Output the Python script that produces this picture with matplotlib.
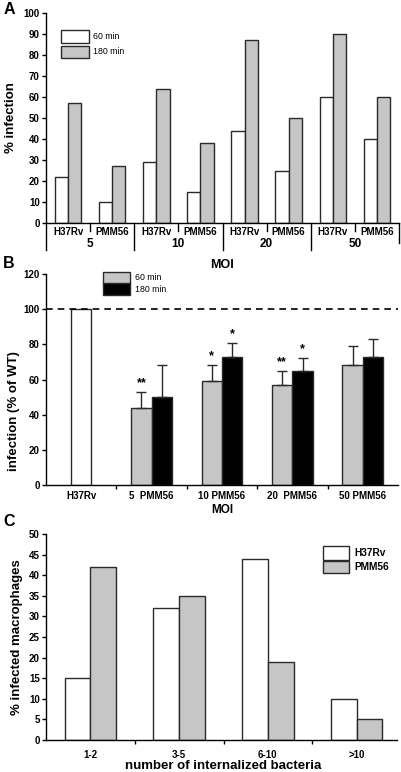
import matplotlib
matplotlib.use("Agg")
import matplotlib.pyplot as plt
from matplotlib.patches import Rectangle
import numpy as np

plt.rcParams['font.family'] = ['Liberation Sans', 'DejaVu Sans']
plt.rcParams['font.weight'] = 'bold'

# ---------------- data ----------------
a_strains = ["H37Rv", "PMM56"]
a_moi = ["5", "10", "20", "50"]
a_60 = [22, 10, 29, 15, 44, 25, 60, 40]
a_180 = [57, 27, 64, 38, 87, 50, 90, 60]

b_cats = ["H37Rv", "5  PMM56", "10 PMM56", "20  PMM56", "50 PMM56"]
b_wt = 100
b_60 = [44, 59, 57, 68]
b_60_err = [9, 9, 8, 11]
b_180 = [50, 73, 65, 73]
b_180_err = [18, 8, 7, 10]
b_stars_60 = ["**", "*", "**", ""]
b_stars_180 = ["", "*", "*", ""]

c_cats = ["1-2", "3-5", "6-10", ">10"]
c_h37rv = [15, 32, 44, 10]
c_pmm56 = [42, 35, 19, 5]

GRAY = "#c6c6c6"
EDGE = "#2a2a2a"
W, H = 401, 772
fig = plt.figure(figsize=(W / 100, H / 100), dpi=100)


def fx(px):
    return px / W


def fy(py):
    return 1 - py / H


def box(x0, y0, x1, y1, color):
    fig.patches.append(Rectangle((fx(x0), fy(y1)), fx(x1 - x0), (y1 - y0) / H,
                                 transform=fig.transFigure, facecolor=color,
                                 edgecolor=EDGE, lw=1.0))


def style(ax):
    for s in ["top", "right"]:
        ax.spines[s].set_visible(False)
    for s in ["left", "bottom"]:
        ax.spines[s].set_linewidth(1.0)
    ax.tick_params(axis='y', length=3, width=1, labelsize=7, pad=1.5)


# ---------------- Panel A ----------------
axA = fig.add_axes([fx(46), fy(223), fx(399 - 46), 210 / H])
style(axA)
x = np.arange(len(a_60))
bw = 0.3
axA.bar(x - bw / 2, a_60, bw, color="white", edgecolor=EDGE, lw=1.0)
axA.bar(x + bw / 2, a_180, bw, color=GRAY, edgecolor=EDGE, lw=1.0)
axA.set_xlim(-0.5, len(a_60) - 0.5)
axA.set_ylim(0, 100)
axA.set_yticks(range(0, 101, 10))
axA.set_xticks([])
tr = axA.get_xaxis_transform()
for i in range(len(a_60)):
    axA.text(i, -0.045, a_strains[i % 2], transform=tr, ha='center', va='center',
             fontsize=7, fontweight='bold')
for j, m in enumerate(a_moi):
    axA.text(2 * j + 0.5, -0.10, m, transform=tr, ha='center', va='center',
             fontsize=8.5, fontweight='bold')
# separators
for k in range(0, 9):
    xb = k - 0.5
    if k == 0:
        y1 = -27 / 210
    elif k % 2 == 0:
        y1 = -27 / 210 if k < 8 else -20 / 210
    else:
        y1 = -8 / 210
    axA.plot([xb, xb], [0, y1], transform=tr, color='black', lw=1.0, clip_on=False)
axA.set_ylabel("% infection", fontsize=9.5, fontweight='bold', labelpad=5)
fig.text(fx(222), fy(265), "MOI", ha='center', va='center', fontsize=9, fontweight='bold')

box(61, 30, 89, 43, "white")
box(61, 46, 89, 58, GRAY)
fig.text(fx(93), fy(36.5), "60 min", ha='left', va='center', fontsize=6.3, fontweight='normal')
fig.text(fx(93), fy(52), "180 min", ha='left', va='center', fontsize=6.3, fontweight='normal')

# ---------------- Panel B ----------------
axB = fig.add_axes([fx(46), fy(485), fx(398 - 46), 211 / H])
style(axB)
xb = np.arange(len(b_cats))
bwB = 0.29
axB.bar([0], [b_wt], bwB, color="white", edgecolor=EDGE, lw=1.0)
xp = xb[1:]
axB.bar(xp - bwB / 2, b_60, bwB, color=GRAY, edgecolor=EDGE, lw=1.0)
axB.bar(xp + bwB / 2, b_180, bwB, color="black", edgecolor=EDGE, lw=1.0)
axB.errorbar(xp - bwB / 2, b_60, yerr=[np.zeros(4), b_60_err], fmt='none',
             ecolor=EDGE, elinewidth=1.0, capsize=3.5, capthick=1.0)
axB.errorbar(xp + bwB / 2, b_180, yerr=[np.zeros(4), b_180_err], fmt='none',
             ecolor=EDGE, elinewidth=1.0, capsize=3.5, capthick=1.0)
for i in range(4):
    if b_stars_60[i]:
        axB.annotate(b_stars_60[i], (xp[i] - bwB / 2, b_60[i] + b_60_err[i]),
                     xytext=(0, 2), textcoords='offset points', ha='center', va='bottom',
                     fontsize=9, fontweight='bold')
    if b_stars_180[i]:
        axB.annotate(b_stars_180[i], (xp[i] + bwB / 2, b_180[i] + b_180_err[i]),
                     xytext=(0, 2), textcoords='offset points', ha='center', va='bottom',
                     fontsize=9, fontweight='bold')
axB.axhline(100, color='black', lw=1.2, ls=(0, (4, 3)))
axB.set_xlim(-0.5, len(b_cats) - 0.5)
axB.set_ylim(0, 120)
axB.set_yticks(range(0, 121, 20))
axB.set_xticks(xb)
axB.set_xticklabels(b_cats, fontsize=7, fontweight='bold')
axB.set_xticks(np.arange(0.5, len(b_cats) - 1, 1), minor=True)
axB.tick_params(axis='x', which='major', length=0, pad=4)
axB.tick_params(axis='x', which='minor', length=3, width=1)
axB.set_ylabel("infection (% of WT)", fontsize=9.5, fontweight='bold')
axB.yaxis.set_label_coords(-0.075, 0.35)
fig.text(fx(222), fy(510), "MOI", ha='center', va='center', fontsize=8.5, fontweight='bold')

box(103, 272, 130, 283.5, GRAY)
box(103, 283.5, 130, 295, "black")
fig.text(fx(135), fy(277.5), "60 min", ha='left', va='center', fontsize=6.3, fontweight='normal')
fig.text(fx(135), fy(289.5), "180 min", ha='left', va='center', fontsize=6.3, fontweight='normal')

# ---------------- Panel C ----------------
axC = fig.add_axes([fx(46), fy(740), fx(401 - 46), 206 / H])
style(axC)
xc = np.arange(len(c_cats))
bwC = 0.29
axC.bar(xc - bwC / 2, c_h37rv, bwC, color="white", edgecolor=EDGE, lw=1.0)
axC.bar(xc + bwC / 2, c_pmm56, bwC, color=GRAY, edgecolor=EDGE, lw=1.0)
axC.set_xlim(-0.5, len(c_cats) - 0.5)
axC.set_ylim(0, 50)
axC.set_yticks(range(0, 51, 5))
axC.set_xticks(xc)
axC.set_xticklabels(c_cats, fontsize=7, fontweight='bold')
axC.set_xticks(np.arange(0.5, len(c_cats) - 1, 1), minor=True)
axC.tick_params(axis='x', which='major', length=0, pad=7)
axC.tick_params(axis='x', which='minor', length=3, width=1)
axC.spines['bottom'].set_bounds(-0.5, 3.45)
axC.set_ylabel("% infected macrophages", fontsize=9.5, fontweight='bold', labelpad=4)
axC.set_xlabel("number of internalized bacteria", fontsize=9.5, fontweight='bold', labelpad=0)

box(323, 546, 349, 559.5, "white")
box(323, 561, 349, 573, GRAY)
fig.text(fx(354), fy(553), "H37Rv", ha='left', va='center', fontsize=7.3, fontweight='bold')
fig.text(fx(354), fy(567), "PMM56", ha='left', va='center', fontsize=7.3, fontweight='bold')

# panel letters
for lab, yy in [("A", 9), ("B", 264), ("C", 522)]:
    fig.text(fx(9), fy(yy), lab, ha='center', va='center', fontsize=11.5, fontweight='bold')

fig.savefig("out.png", dpi=100)
